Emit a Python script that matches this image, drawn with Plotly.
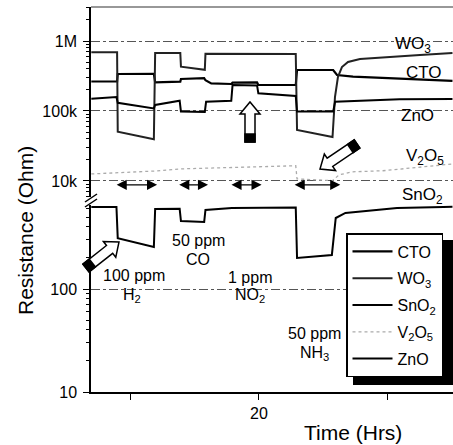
import math
import plotly.graph_objects as go

# ---- sensor resistance data (time in hours, resistance in ohm) ----
time_wo3 = [7.0, 9.0, 9.05, 11.85, 11.95, 13.9, 13.95, 15.8, 15.85, 22.85, 22.95,
            25.7, 25.89, 26.12, 26.43, 26.9, 27.83, 29.92, 32.48, 35.0]
wo3_ohm = [690e3, 690e3, 50.6e3, 39.5e3, 674e3, 672e3, 430e3, 388e3, 655e3, 652e3, 53.5e3,
           42.5e3, 158e3, 306e3, 425e3, 501e3, 553e3, 591e3, 631e3, 674e3]

time_cto = [7.0, 9.0, 9.05, 11.85, 11.95, 13.9, 13.95, 15.75, 15.85, 16.3, 17.85, 17.95,
            19.85, 19.95, 22.85, 22.95, 25.75, 26.05, 27.29, 29.92, 35.0]
cto_ohm = [264e3, 264e3, 338e3, 340e3, 257e3, 262e3, 287e3, 295e3, 275e3, 248e3, 243e3, 254e3,
           256e3, 236e3, 235e3, 385e3, 385e3, 327e3, 309e3, 293e3, 270e3]

time_zno = [7.0, 8.95, 9.05, 11.85, 11.95, 13.85, 13.95, 15.8, 15.9, 17.85, 17.95, 19.85,
            19.95, 22.85, 22.95, 25.75, 25.9, 30.9, 35.0]
zno_ohm = [150e3, 158e3, 131e3, 109e3, 122e3, 140e3, 98e3, 97e3, 136e3, 140e3, 235e3, 232e3,
           179e3, 164e3, 98e3, 98e3, 136e3, 147e3, 148e3]

time_sno2 = [7.0, 8.95, 9.05, 11.85, 11.95, 13.85, 13.95, 15.75, 15.85, 17.9, 22.85, 22.95,
             25.65, 25.95, 26.7, 28.2, 30.7, 34.3, 35.0]
sno2_ohm = [625, 625, 312, 256, 599, 600, 457, 447, 585, 611, 618, 200,
            214, 489, 547, 571, 611, 625, 628]

time_v2o5 = [7.0, 9.0, 12.0, 14.0, 17.0, 22.85, 22.95, 25.7, 26.2, 27.2, 29.6, 35.0]
v2o5_ohm = [12.6e3, 13e3, 13.9e3, 14.9e3, 15.3e3, 16.5e3, 10.7e3, 10.1e3, 12.2e3, 13.5e3, 14e3, 17.5e3]

# gas pulses: double arrows mark each exposure window
pulse_start = [8.85, 13.7, 17.75, 22.65]
pulse_end = [12.1, 16.05, 20.2, 26.3]

# axis ticks
x_ticks = [20]
x_ticktext = ["20"]
x_side_ticks = [10, 30]
upper_ticks = [1e4, 1e5, 1e6]
upper_ticktext = ["10k", "100k", "1M"]
lower_ticks = [10, 100]
lower_ticktext = ["10", "100"]

# ---- layout geometry (pixels) ----
W, H = 453, 445
ML, MR, MT, MB = 91, 0, 7, 53
PW, PH = W - ML - MR, H - MT - MB
BOTTOM = H - MB


def px(x):
    return (x - ML) / PW


def py(y):
    return (BOTTOM - y) / PH


FONT = "Liberation Sans, Arial, Helvetica, sans-serif"
upper_dom = [py(197), 1.0]
lower_dom = [0.0, py(205)]

minor_upper = [m * 10 ** e for e in (3, 4, 5, 6) for m in range(2, 10)]
minor_lower = [m * 10 ** e for e in (1, 2) for m in range(2, 10)]

fig = go.Figure()

black = dict(color="black", width=2)
fig.add_trace(go.Scatter(x=time_cto, y=cto_ohm, name="CTO", mode="lines",
                         line=dict(color="black", width=2.2), yaxis="y2", legendgroup="a"))
fig.add_trace(go.Scatter(x=time_wo3, y=wo3_ohm, name="WO<sub>3</sub>", mode="lines",
                         line=dict(color="#222", width=2), yaxis="y2", legendgroup="b"))
fig.add_trace(go.Scatter(x=time_sno2, y=sno2_ohm, name="SnO<sub>2</sub>", mode="lines",
                         line=black, yaxis="y", legendgroup="c"))
fig.add_trace(go.Scatter(x=time_v2o5, y=v2o5_ohm, name="V<sub>2</sub>O<sub>5</sub>", mode="lines",
                         line=dict(color="#ababab", width=1.3, dash="dot"), yaxis="y2", legendgroup="d"))
fig.add_trace(go.Scatter(x=time_zno, y=zno_ohm, name="ZnO", mode="lines",
                         line=black, yaxis="y2", legendgroup="e"))

grid = dict(showgrid=True, gridcolor="#555", gridwidth=1, griddash="dashdot")
common_y = dict(type="log", showline=True, linecolor="black", linewidth=1.5,
                ticks="outside", ticklen=6, tickwidth=1.3, tickcolor="black",
                tickfont=dict(family=FONT, size=16, color="black"),
                zeroline=False, tickmode="array", ticklabelstandoff=3, **grid)

fig.update_layout(
    width=W, height=H, autosize=False,
    margin=dict(l=ML, r=MR, t=MT, b=MB, pad=0),
    paper_bgcolor="white", plot_bgcolor="white",
    font=dict(family=FONT, color="black"),
    xaxis=dict(range=[6.977, 35.04], showline=True, linecolor="black", linewidth=1.5,
               ticks="outside", ticklen=6, tickwidth=1.3, tickcolor="black",
               tickmode="array", tickvals=x_ticks, ticktext=x_ticktext,
               minor=dict(tickmode="array", tickvals=x_side_ticks, ticks="outside",
                          ticklen=6, tickwidth=1.3, tickcolor="black", showgrid=False),
               tickfont=dict(family=FONT, size=16, color="black"),
               showgrid=False, zeroline=False, anchor="y"),
    yaxis=dict(domain=lower_dom, range=[1.0, 2.8155], anchor="x",
               tickvals=lower_ticks, ticktext=lower_ticktext,
               minor=dict(tickmode="array", tickvals=minor_lower, ticks="outside",
                          ticklen=3, tickcolor="black", showgrid=False),
               **common_y),
    yaxis2=dict(domain=upper_dom, range=[3.771, 6.486], anchor="x",
                tickvals=upper_ticks, ticktext=upper_ticktext,
                minor=dict(tickmode="array", tickvals=minor_upper, ticks="outside",
                           ticklen=3, tickcolor="black", showgrid=False),
                **common_y),
    legend=dict(x=px(346), y=py(233), xanchor="left", yanchor="top",
                bgcolor="white", bordercolor="black", borderwidth=1.5,
                font=dict(family=FONT, size=16, color="black"),
                itemwidth=40, tracegroupgap=3, traceorder="grouped"),
)

shapes = []
# top frame line
shapes.append(dict(type="line", xref="paper", yref="paper", x0=0, x1=1, y0=1, y1=1,
                   line=dict(color="#333", width=1.2)))
# axis break marks
for dy in (0, 5):
    shapes.append(dict(type="line", xref="paper", yref="paper",
                       x0=px(85), y0=py(202 + dy), x1=px(97), y1=py(194 + dy),
                       line=dict(color="black", width=1.5)))
# legend drop shadow
shapes.append(dict(type="rect", xref="paper", yref="paper",
                   x0=px(353), x1=px(455), y0=py(385), y1=py(240),
                   fillcolor="black", line=dict(width=0), layer="above"))


def block_arrow(tail, tip, shaft_w=10, head_w=20, head_len=12, dark_len=8):
    tx, ty = tail
    hx, hy = tip
    d = math.hypot(hx - tx, hy - ty)
    ux, uy = (hx - tx) / d, (hy - ty) / d
    nx, ny = -uy, ux
    bx, by = hx - ux * head_len, hy - uy * head_len
    pts = [(tx + nx * shaft_w / 2, ty + ny * shaft_w / 2),
           (bx + nx * shaft_w / 2, by + ny * shaft_w / 2),
           (bx + nx * head_w / 2, by + ny * head_w / 2),
           (hx, hy),
           (bx - nx * head_w / 2, by - ny * head_w / 2),
           (bx - nx * shaft_w / 2, by - ny * shaft_w / 2),
           (tx - nx * shaft_w / 2, ty - ny * shaft_w / 2)]
    path = "M " + " L ".join(f"{px(x):.5f},{py(y):.5f}" for x, y in pts) + " Z"
    ex, ey = tx + ux * dark_len, ty + uy * dark_len
    dark = [(tx + nx * shaft_w / 2, ty + ny * shaft_w / 2),
            (ex + nx * shaft_w / 2, ey + ny * shaft_w / 2),
            (ex - nx * shaft_w / 2, ey - ny * shaft_w / 2),
            (tx - nx * shaft_w / 2, ty - ny * shaft_w / 2)]
    dpath = "M " + " L ".join(f"{px(x):.5f},{py(y):.5f}" for x, y in dark) + " Z"
    return [dict(type="path", xref="paper", yref="paper", path=path,
                 fillcolor="white", line=dict(color="black", width=1.5), layer="above"),
            dict(type="path", xref="paper", yref="paper", path=dpath,
                 fillcolor="black", line=dict(color="black", width=1.5), layer="above")]


shapes += block_arrow((250, 142), (250, 102))
shapes += block_arrow((357, 144), (320, 169))
shapes += block_arrow((86, 268), (119, 242))
fig.update_layout(shapes=shapes)

ann = []
# exposure windows
y_arrow = math.log10(8.8e3)
for s, e in zip(pulse_start, pulse_end):
    ann.append(dict(x=e, y=y_arrow, xref="x", yref="y2", ax=s, ay=y_arrow, axref="x", ayref="y2",
                    text="", showarrow=True, arrowside="end+start", arrowhead=2, startarrowhead=2,
                    arrowsize=1.55, startarrowsize=1.55, arrowwidth=1.3, arrowcolor="black"))


def label(text, x, y, size=16, **kw):
    ann.append(dict(text=text, x=px(x), y=py(y), xref="paper", yref="paper", showarrow=False,
                    xanchor="center", yanchor="middle",
                    font=dict(family=FONT, size=size, color="black"), **kw))


# material names
label("WO<sub>3</sub>", 413, 45, 17)
label("CTO", 424, 73, 17)
label("ZnO", 417, 115, 17)
label("V<sub>2</sub>O<sub>5</sub>", 425, 157, 17)
label("SnO<sub>2</sub>", 422, 196, 17)
# gas labels
label("100 ppm", 134, 275)
label("H<sub>2</sub>", 132, 295)
label("50 ppm", 198, 240)
label("CO", 198, 259)
label("1 ppm", 250, 277)
label("NO<sub>2</sub>", 250, 295)
label("50 ppm", 314, 333)
label("NH<sub>3</sub>", 314, 353)
# axis titles
label("Time (Hrs)", 353, 433, 21)
label("Resistance (Ohm)", 25, 231, 21, textangle=-90)

fig.update_layout(annotations=ann)
fig.write_html("out.html")
